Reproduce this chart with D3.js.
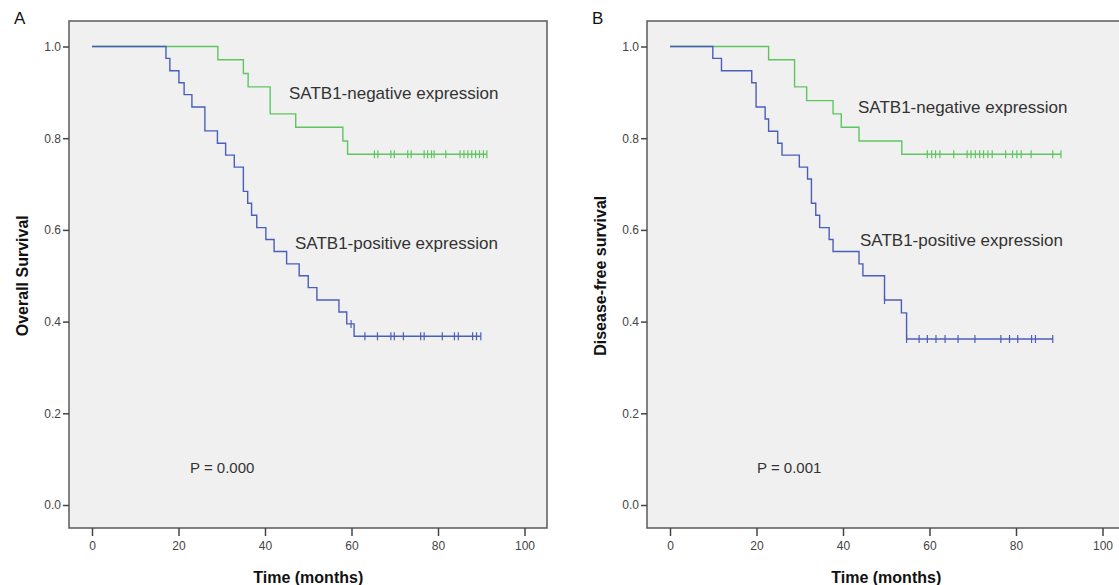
<!DOCTYPE html>
<html>
<head>
<meta charset="utf-8">
<script src="https://cdn.jsdelivr.net/npm/d3@7"></script>
<style>
  body { margin: 0; background: #fff; }
  svg { display: block; font-family: "Liberation Sans", Arial, sans-serif; }
</style>
</head>
<body>
<svg id="chart" width="1119" height="585"></svg>
<script>
/*
 * Data
 */
var timeTicks = [0, 20, 40, 60, 80, 100],
    survTicks = [0, 0.2, 0.4, 0.6, 0.8, 1.0];

// A: overall survival
var osNegTimes = [29.1, 35.0, 36.1, 41.2, 47.1, 58.0, 59.1],
    osNegSurv  = [0.971, 0.941, 0.912, 0.853, 0.824, 0.794, 0.765],
    osNegCens  = [65.3, 66.1, 69.1, 69.9, 73.0, 73.8, 76.8, 77.6, 78.5, 79.1, 81.8,
                  85.1, 86.0, 86.9, 87.8, 88.7, 89.6, 90.5, 91.3];

var osPosTimes = [17.1, 18.0, 20.1, 21.3, 23.1, 26.1, 29.0, 30.9, 32.9, 35.0, 36.0,
                  36.9, 38.1, 40.2, 42.1, 45.0, 47.9, 50.0, 52.0, 57.1, 58.9, 60.6],
    osPosSurv  = [0.974, 0.947, 0.921, 0.895, 0.868, 0.816, 0.789, 0.763, 0.737, 0.684, 0.658,
                  0.632, 0.605, 0.579, 0.553, 0.526, 0.500, 0.474, 0.447, 0.421, 0.395, 0.368],
    osPosCens  = [59.9, 63.1, 66.0, 69.1, 69.9, 72.0, 76.0, 76.8, 81.0, 83.8, 84.7, 88.0, 88.9, 89.9];

// B: disease-free survival
var dfsNegTimes = [22.8, 28.8, 31.6, 37.7, 39.6, 43.7, 53.6],
    dfsNegSurv  = [0.971, 0.912, 0.882, 0.853, 0.824, 0.794, 0.765],
    dfsNegCens  = [59.5, 60.5, 61.4, 62.4, 65.6, 68.7, 69.6, 70.6, 71.6, 72.5, 73.5, 74.5,
                   77.6, 79.2, 80.2, 81.2, 83.5, 88.5, 90.4];

var dfsPosTimes = [9.9, 11.9, 18.9, 19.9, 22.0, 22.8, 24.9, 25.9, 29.9, 31.8, 32.7,
                   33.7, 34.6, 36.8, 37.7, 43.7, 44.6, 49.6, 53.5, 54.7],
    dfsPosSurv  = [0.974, 0.947, 0.921, 0.868, 0.842, 0.815, 0.789, 0.763, 0.737, 0.711, 0.658,
                   0.632, 0.605, 0.579, 0.553, 0.526, 0.500, 0.447, 0.419, 0.362],
    dfsPosCens  = [49.6, 54.7, 57.6, 59.5, 61.5, 63.6, 66.6, 70.5, 76.5, 78.5, 80.4, 83.6, 84.5, 88.5];

/*
 * Style
 */
var GREEN = '#5fc65f',
    BLUE = '#4a5ebd',
    FRAME_W = 478,
    FRAME_TOP = 21,
    FRAME_BOTTOM = 528,
    X_OFFSET = 23,
    X_SPAN = 432.5,
    Y_TOP = 46.5,
    Y_BOTTOM = 505,
    CENSOR_H = 4;

var panels = [
  { letter: 'A', left: 69, yTitle: 'Overall Survival', pText: 'P = 0.000', pX: 190,
    negLabel: [289, 99], posLabel: [295, 249],
    groups: [
      { times: osNegTimes, surv: osNegSurv, cens: osNegCens, color: GREEN },
      { times: osPosTimes, surv: osPosSurv, cens: osPosCens, color: BLUE }
    ] },
  { letter: 'B', left: 647, yTitle: 'Disease-free survival', pText: 'P = 0.001', pX: 757,
    negLabel: [858, 113], posLabel: [860, 246],
    groups: [
      { times: dfsNegTimes, surv: dfsNegSurv, cens: dfsNegCens, color: GREEN },
      { times: dfsPosTimes, surv: dfsPosSurv, cens: dfsPosCens, color: BLUE }
    ] }
];

var svg = d3.select('#chart');

function survivalAt(g, t) {
  var s = 1;
  g.times.forEach(function (tt, i) { if (tt <= t) s = g.surv[i]; });
  return s;
}

function drawPanel(p) {
  var x = d3.scaleLinear().domain([0, 100]).range([p.left + X_OFFSET, p.left + X_OFFSET + X_SPAN]),
      y = d3.scaleLinear().domain([0, 1]).range([Y_BOTTOM, Y_TOP]);

  var g = svg.append('g');

  g.append('rect')
    .attr('x', p.left).attr('y', FRAME_TOP)
    .attr('width', FRAME_W).attr('height', FRAME_BOTTOM - FRAME_TOP)
    .attr('fill', '#f0f0f0')
    .attr('stroke', '#5a5a5a')
    .attr('stroke-width', 1.5);

  // axes
  var yAxis = g.append('g')
    .attr('transform', 'translate(' + p.left + ',0)')
    .call(d3.axisLeft(y).tickValues(survTicks).tickFormat(d3.format('.1f')).tickSize(6).tickPadding(2));
  var xAxis = g.append('g')
    .attr('transform', 'translate(0,' + FRAME_BOTTOM + ')')
    .call(d3.axisBottom(x).tickValues(timeTicks).tickSize(8).tickPadding(5));

  [yAxis, xAxis].forEach(function (ax) {
    ax.select('.domain').remove();
    ax.selectAll('.tick line').attr('stroke', '#444').attr('stroke-width', 1.5);
    ax.selectAll('.tick text')
      .attr('fill', '#444')
      .style('font-size', '12px')
      .style('font-family', '"Liberation Sans", Arial, sans-serif');
  });

  // curves
  var line = d3.line()
    .x(function (d) { return x(d[0]); })
    .y(function (d) { return y(d[1]); })
    .curve(d3.curveStepAfter);

  p.groups.forEach(function (grp) {
    var pts = [[0, 1]];
    grp.times.forEach(function (t, i) { pts.push([t, grp.surv[i]]); });
    var last = d3.max(grp.cens);
    pts.push([last, grp.surv[grp.surv.length - 1]]);

    g.append('path')
      .attr('d', line(pts))
      .attr('fill', 'none')
      .attr('stroke', grp.color)
      .attr('stroke-width', 1.4);

    g.selectAll(null)
      .data(grp.cens)
      .enter()
      .append('line')
      .attr('x1', function (d) { return x(d); })
      .attr('x2', function (d) { return x(d); })
      .attr('y1', function (d) { return y(survivalAt(grp, d)) - CENSOR_H; })
      .attr('y2', function (d) { return y(survivalAt(grp, d)) + CENSOR_H; })
      .attr('stroke', grp.color)
      .attr('stroke-width', 1.2);
  });

  // texts
  var textColor = '#333';
  g.append('text')
    .attr('x', p.negLabel[0]).attr('y', p.negLabel[1])
    .attr('fill', textColor).style('font-size', '17px')
    .text('SATB1-negative expression');
  g.append('text')
    .attr('x', p.posLabel[0]).attr('y', p.posLabel[1])
    .attr('fill', textColor).style('font-size', '17px')
    .text('SATB1-positive expression');
  g.append('text')
    .attr('x', p.pX).attr('y', 473)
    .attr('fill', textColor).style('font-size', '15px')
    .text(p.pText);

  g.append('text')
    .attr('x', p.left - 55).attr('y', 24)
    .attr('fill', '#111').style('font-size', '17px')
    .text(p.letter);

  g.append('text')
    .attr('transform', 'translate(' + (p.left - 41) + ',' + ((Y_TOP + Y_BOTTOM) / 2) + ') rotate(-90)')
    .attr('text-anchor', 'middle')
    .attr('fill', '#111')
    .style('font-size', '16px')
    .style('font-weight', 'bold')
    .text(p.yTitle);

  g.append('text')
    .attr('x', x(50)).attr('y', 583)
    .attr('text-anchor', 'middle')
    .attr('fill', '#111')
    .style('font-size', '16px')
    .style('font-weight', 'bold')
    .text('Time (months)');
}

panels.forEach(drawPanel);
</script>
</body>
</html>
